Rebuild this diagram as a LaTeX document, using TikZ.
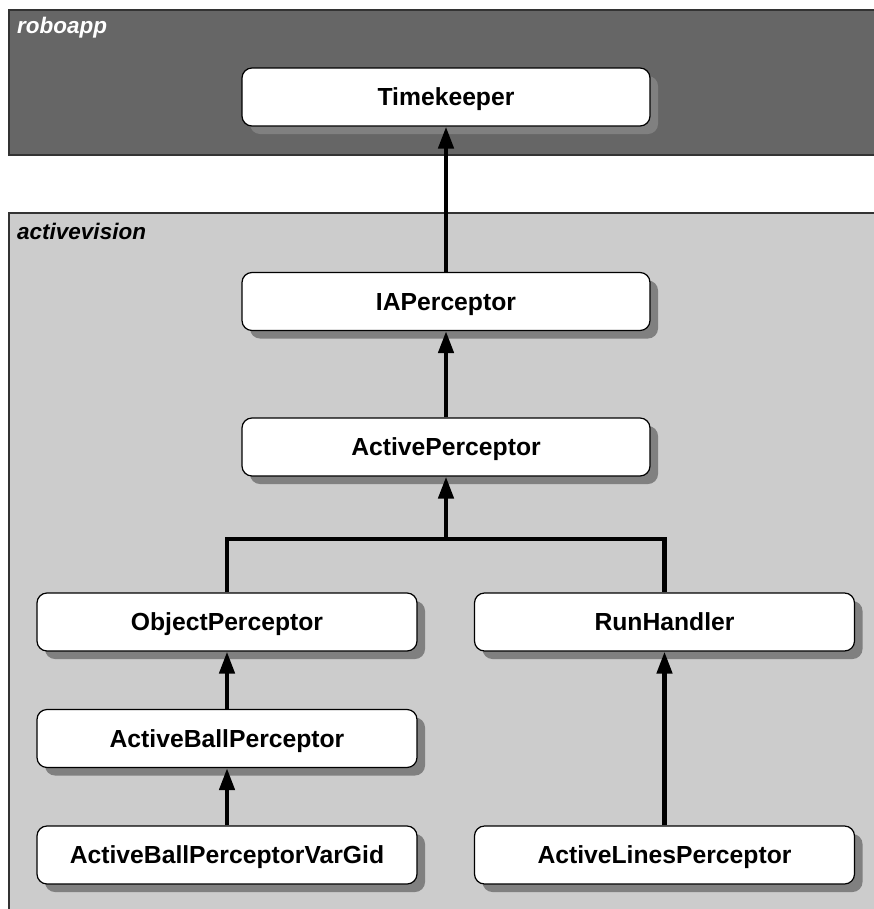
\documentclass[tikz,border=0pt]{standalone}
\usepackage{fontspec}
\setmainfont{Liberation Sans}
\usetikzlibrary{arrows.meta,shadows}
\definecolor{pkgdark}{HTML}{666666}
\definecolor{pkglight}{HTML}{CCCCCC}
\definecolor{shadowgray}{HTML}{808080}
\definecolor{pkgborder}{HTML}{333333}
\begin{document}
\begin{tikzpicture}[x=1bp,y=-1bp,
  classbox/.style={draw=black, line width=1.2bp, fill=white, rounded corners=10bp,
    minimum height=58bp, inner sep=0pt, text height=17.7bp, text depth=0pt,
    font=\fontsize{24.7bp}{28bp}\selectfont\bfseries,
    drop shadow={shadow xshift=8bp, shadow yshift=-8bp, fill=shadowgray, opacity=1, draw=none}},
  widebox/.style={minimum width=408bp},
  narrowbox/.style={minimum width=380bp},
  inherit/.style={line width=4.5bp, -{Triangle[length=22bp,width=15bp]}},
  branch/.style={line width=4.5bp},
  pkgframe/.style={draw=pkgborder, line width=1.5bp},
  pkglabel/.style={font=\fontsize{22.5bp}{26bp}\selectfont\bfseries\itshape,
    anchor=base west, inner sep=0pt}]

\useasboundingbox (0,0) rectangle (874,909);
\fill[white] (0,0) rectangle (874,909);

% packages
\filldraw[pkgframe, fill=pkgdark] (9,10) rectangle (880,155);
\filldraw[pkgframe, fill=pkglight] (9,213) rectangle (880,925);
\node[pkglabel, text=white] (lblroboapp) at (17,33) {roboapp};
\node[pkglabel] (lblactivevision) at (17,239) {activevision};

% classes
\node[classbox, widebox] (time) at (446,97) {Timekeeper};
\node[classbox, widebox] (iap) at (446,301.5) {IAPerceptor};
\node[classbox, widebox] (ap) at (446,447) {ActivePerceptor};
\node[classbox, narrowbox] (op) at (227,622) {ObjectPerceptor};
\node[classbox, narrowbox] (rh) at (664.5,622) {RunHandler};
\node[classbox, narrowbox] (abp) at (227,738.5) {ActiveBallPerceptor};
\node[classbox, narrowbox] (abpv) at (227,855) {ActiveBallPerceptorVarGid};
\node[classbox, narrowbox] (alp) at (664.5,855) {ActiveLinesPerceptor};

% generalizations
\draw[inherit] (iap.north) -- (time.south);
\draw[inherit] (ap.north) -- (iap.south);
\coordinate (junction) at (446,539);
\draw[inherit] (junction) -- (ap.south);
\draw[branch] (op.north) -- (op.north |- junction) -- (rh.north |- junction) -- (rh.north);
\draw[inherit] (abp.north) -- (op.south);
\draw[inherit] (abpv.north) -- (abp.south);
\draw[inherit] (alp.north) -- (rh.south);
\end{tikzpicture}
\end{document}
